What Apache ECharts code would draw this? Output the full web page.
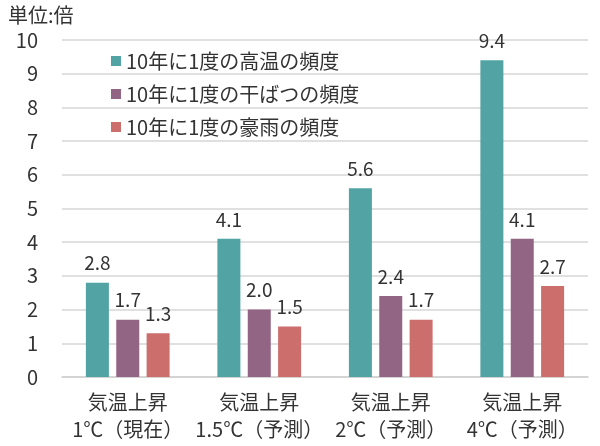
<!DOCTYPE html>
<html>
<head>
<meta charset="utf-8">
<script src="https://cdn.jsdelivr.net/npm/echarts@6/dist/echarts.min.js"></script>
<style>
  html, body { margin: 0; padding: 0; background: #fff; }
  #chart { width: 600px; height: 446px; }
</style>
</head>
<body>
<div id="chart"></div>
<script>
// カテゴリ（気温上昇シナリオ）
const categories = ['気温上昇\n1℃（現在）', '気温上昇\n1.5℃（予測）', '気温上昇\n2℃（予測）', '気温上昇\n4℃（予測）'];
// 系列名
const seriesNames = ['10年に1度の高温の頻度', '10年に1度の干ばつの頻度', '10年に1度の豪雨の頻度'];
// 各系列の値（倍）
const heatValues = [2.8, 4.1, 5.6, 9.4];
const droughtValues = [1.7, 2.0, 2.4, 4.1];
const rainValues = [1.3, 1.5, 1.7, 2.7];

const colors = ['#52a3a3', '#936584', '#cb6e6c'];
const fontFamily = '"Noto Sans CJK JP", "Noto Sans", sans-serif';

const chart = echarts.init(document.getElementById('chart'));

function makeSeries(name, data, color) {
    return {
        name: name,
        type: 'bar',
        data: data,
        barWidth: 23,
        barGap: '32%',
        itemStyle: { color: color },
        label: {
            show: true,
            position: 'top',
            distance: 10,
            color: '#333',
            fontSize: 19,
            fontFamily: fontFamily,
            formatter: p => p.value.toFixed(1)
        }
    };
}

const option = {
    animation: false,
    textStyle: { fontFamily: fontFamily },
    title: {
        text: '単位:倍',
        left: 3,
        top: 0,
        textStyle: { fontSize: 20, fontWeight: 'normal', color: '#333', fontFamily: fontFamily }
    },
    legend: {
        orient: 'vertical',
        left: 106,
        top: 46,
        itemWidth: 10,
        itemHeight: 10,
        itemGap: 13,
        icon: 'rect',
        textStyle: { fontSize: 20, color: '#333', fontFamily: fontFamily },
        data: seriesNames
    },
    grid: {
        left: 62,
        right: 12,
        top: 40,
        bottom: 69
    },
    xAxis: {
        type: 'category',
        data: categories,
        axisLine: { show: true, lineStyle: { color: '#d0d0d0', width: 1.5 } },
        axisTick: { show: false },
        axisLabel: {
            interval: 0,
            fontSize: 20,
            lineHeight: 27,
            margin: 12,
            color: '#333',
            fontFamily: fontFamily
        }
    },
    yAxis: {
        type: 'value',
        min: 0,
        max: 10,
        interval: 1,
        axisLine: { show: false },
        axisTick: { show: false },
        axisLabel: {
            fontSize: 20,
            margin: 24,
            color: '#333',
            fontFamily: fontFamily
        },
        splitLine: { lineStyle: { color: '#d6d6d6', width: 1.5 } }
    },
    series: [
        makeSeries(seriesNames[0], heatValues, colors[0]),
        makeSeries(seriesNames[1], droughtValues, colors[1]),
        makeSeries(seriesNames[2], rainValues, colors[2])
    ]
};

chart.setOption(option);
</script>
</body>
</html>
